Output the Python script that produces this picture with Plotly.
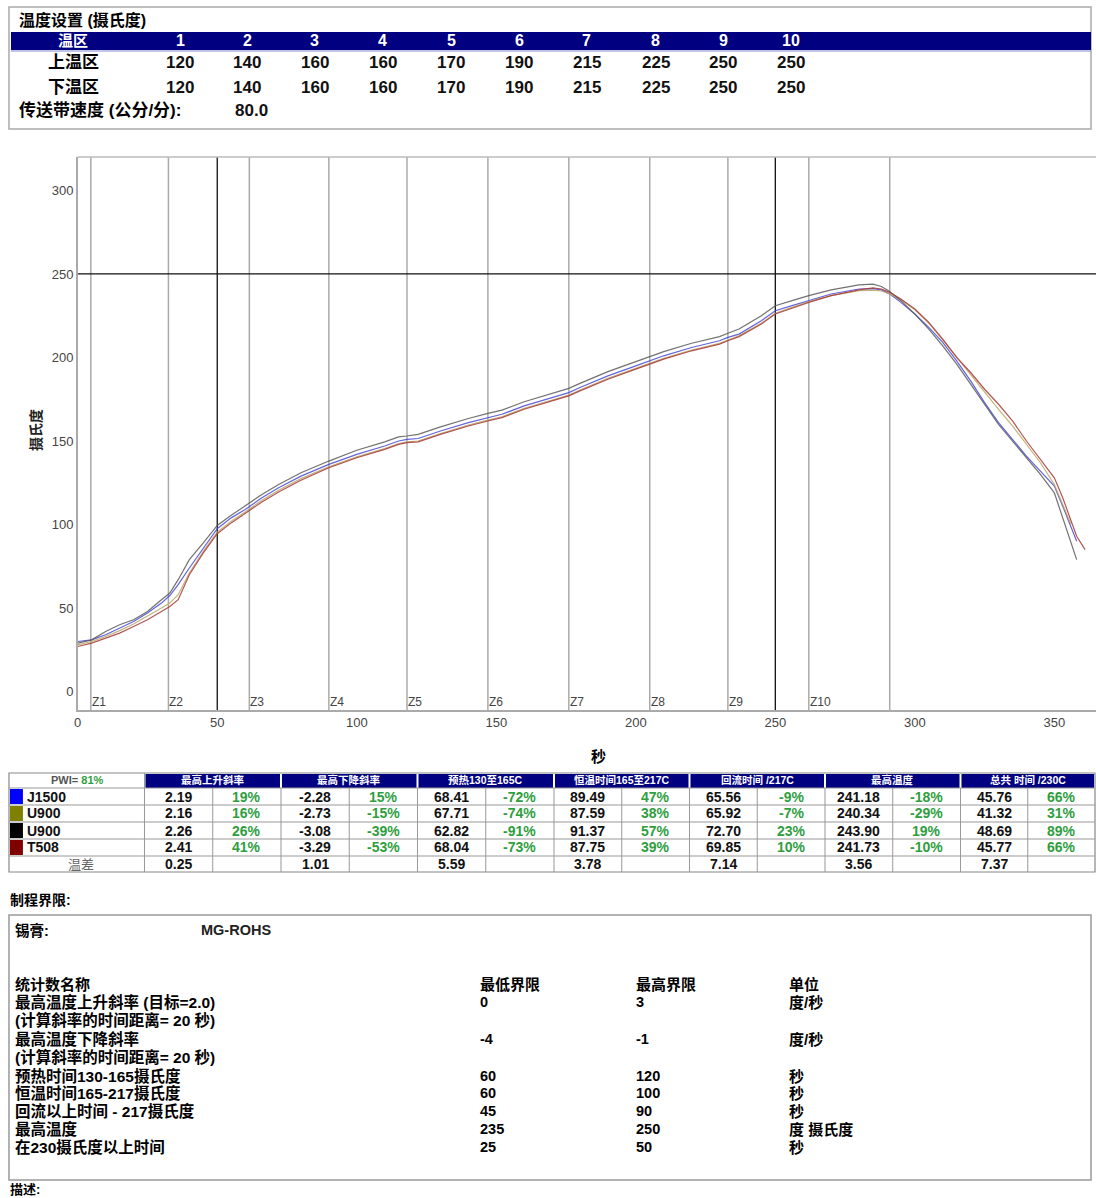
import plotly.graph_objects as go

# ---------------- data ----------------
ZONE_NAMES = ["1", "2", "3", "4", "5", "6", "7", "8", "9", "10"]
UPPER_SET = [120, 140, 160, 160, 170, 190, 215, 225, 250, 250]
LOWER_SET = [120, 140, 160, 160, 170, 190, 215, 225, 250, 250]
BELT_SPEED = "80.0"

ZONE_T = [4.7, 32.5, 61.5, 90, 118, 147, 176, 205, 233, 262, 291]
ZONE_LABELS = ["Z1", "Z2", "Z3", "Z4", "Z5", "Z6", "Z7", "Z8", "Z9", "Z10"]

TIME = [0, 5, 10, 15, 20, 25, 30, 33, 36, 40, 45, 50, 55, 60, 66, 72, 80, 90, 100, 110,
        115, 118, 122, 130, 140, 147, 152, 160, 170, 176, 180, 190, 200, 205, 210, 220,
        230, 233, 237, 245, 250, 256, 262, 270, 280, 285, 288, 291, 295, 300, 305, 310,
        315, 320, 325, 330, 335, 340, 345, 350, 353, 356, 358, 361]

J1500 = [30, 31, 34, 38, 42, 47, 53, 57.5, 64, 74, 86, 97.5, 104, 109, 116, 122, 129, 136, 142, 147,
         150, 151, 151.5, 156, 161, 164, 166, 171, 176, 179, 182, 189, 195, 198, 201, 206,
         210, 212, 214, 222, 228, 231, 234, 238, 241, 241.2, 240.5, 238, 233, 226, 218, 209,
         198, 186, 173, 161, 151, 141, 132, 123, 111, 98, 90, None]
U900_A = [28, 30, 33, 36.5, 40.5, 45, 50, 53, 58, 71, 84, 95.5, 102, 107.5, 114.5, 120.5, 127.5, 134.5, 140.5, 145.5,
          148.5, 149.5, 150, 154.5, 159.5, 162.5, 164.5, 169.5, 174.5, 177.5, 180.5, 187.5, 193.5, 196.5, 199.5, 204.5,
          208.5, 210.5, 213, 220.5, 226.5, 230, 233.5, 237, 240, 240.3, 239.8, 238, 234.5, 228.5, 220.5, 210.5,
          200, 190, 179, 169, 159, 148, 137, 124, 112, 100, None, None]
U900_B = [29, 31, 36, 40, 43, 48, 55, 59, 67, 79, 89, 99.5, 105.5, 111, 118, 124, 131, 138, 144.5, 149.5,
          152.5, 153, 154, 158.5, 163.5, 166.5, 168.5, 173.5, 178.5, 181.5, 184.5, 191.5, 197.5, 200.5, 203.5, 208.5,
          212.5, 214.5, 217, 225, 231, 234, 237, 240.5, 243.5, 243.9, 242.5, 239.5, 234, 226, 217, 207,
          196, 184, 172, 160, 150, 140, 130, 119, 104, 89, 79, None]
T508 = [27, 29, 32, 35, 39, 43, 48, 51, 55, 70, 83, 94.5, 101, 106.5, 113.5, 119.5, 126.5, 134, 140, 145,
        148, 149, 149.5, 154, 159, 162, 164, 169, 174, 177, 180, 187, 193, 196, 199, 204,
        208, 210, 212.5, 220, 226, 229.5, 233, 237, 240.5, 241.7, 241, 239, 235, 229, 221, 211,
        200, 191, 181, 172, 162, 150, 139, 128, 116, 102, 93, 85]

SERIES_NAMES = ["J1500", "U900", "U900", "T508"]
SERIES_LINE_COLORS = ["#4a4ad8", "#b8a860", "#5a5a5a", "#a83838"]
SWATCH_COLORS = ["#0000ff", "#808000", "#000000", "#800000"]

STAT_HEADERS = ["最高上升斜率", "最高下降斜率", "预热130至165C", "恒温时间165至217C",
                "回流时间 /217C", "最高温度", "总共 时间 /230C"]
J1500_VALS = ["2.19", "-2.28", "68.41", "89.49", "65.56", "241.18", "45.76"]
J1500_PCTS = ["19%", "15%", "-72%", "47%", "-9%", "-18%", "66%"]
U900A_VALS = ["2.16", "-2.73", "67.71", "87.59", "65.92", "240.34", "41.32"]
U900A_PCTS = ["16%", "-15%", "-74%", "38%", "-7%", "-29%", "31%"]
U900B_VALS = ["2.26", "-3.08", "62.82", "91.37", "72.70", "243.90", "48.69"]
U900B_PCTS = ["26%", "-39%", "-91%", "57%", "23%", "19%", "89%"]
T508_VALS = ["2.41", "-3.29", "68.04", "87.75", "69.85", "241.73", "45.77"]
T508_PCTS = ["41%", "-53%", "-73%", "39%", "10%", "-10%", "66%"]
DIFF_VALS = ["0.25", "1.01", "5.59", "3.78", "7.14", "3.56", "7.37"]
PWI = "81%"

PASTE = "MG-ROHS"
LIMIT_NAMES = ["最高温度上升斜率 (目标=2.0)", "(计算斜率的时间距离= 20 秒)", "最高温度下降斜率",
               "(计算斜率的时间距离= 20 秒)", "预热时间130-165摄氏度", "恒温时间165-217摄氏度",
               "回流以上时间 - 217摄氏度", "最高温度", "在230摄氏度以上时间"]
LIMIT_LOW = ["0", "", "-4", "", "60", "60", "45", "235", "25"]
LIMIT_HIGH = ["3", "", "-1", "", "120", "100", "90", "250", "50"]
LIMIT_UNIT = ["度/秒", "", "度/秒", "", "秒", "秒", "秒", "度 摄氏度", "秒"]

# ---------------- helpers ----------------
W, H = 1096, 1198
DX = -3  # small horizontal compensation
FONT = "Liberation Sans, Arial, Noto Sans CJK SC, sans-serif"
NAVY = "#000080"
GREEN = "#2e9e3e"
shapes, annos = [], []


def px(x):
    return (x + DX) / W


def py(y):
    return 1 - y / H


def text(x, y, s, size=13, color="black", bold=True, anchor="left"):
    annos.append(dict(x=px(x), y=py(y), xref="paper", yref="paper",
                      text=f"<b>{s}</b>" if bold else s, showarrow=False,
                      xanchor=anchor, yanchor="middle", borderpad=0,
                      font=dict(size=size, color=color, family=FONT)))


def rect(x0, y0, x1, y1, fill=None, line="#999", lw=1):
    shapes.append(dict(type="rect", xref="paper", yref="paper", layer="below",
                       x0=px(x0), x1=px(x1), y0=py(y1), y1=py(y0),
                       fillcolor=fill if fill else "rgba(0,0,0,0)",
                       line=dict(color=line, width=lw)))


def hline(x0, x1, y, color="#999", lw=1):
    shapes.append(dict(type="line", xref="paper", yref="paper",
                       x0=px(x0), x1=px(x1), y0=py(y), y1=py(y),
                       line=dict(color=color, width=lw)))


def vline(x, y0, y1, color="#999", lw=1):
    shapes.append(dict(type="line", xref="paper", yref="paper",
                       x0=px(x), x1=px(x), y0=py(y0), y1=py(y1),
                       line=dict(color=color, width=lw)))


# ---------------- top settings table ----------------
rect(8, 7, 1094, 129, line="#aaa", lw=1.5)
text(17, 20, "温度设置 (摄氏度)", size=16)
rect(10, 32, 1094, 50, fill=NAVY, line=NAVY, lw=0)
hline(10, 1094, 51, color="#8888cc", lw=1)
COL_C = [180, 247, 315, 383, 452, 520, 588, 657, 725, 793]
text(72, 41, "温区", size=15, color="white", anchor="center")
for c, z in zip(COL_C, ZONE_NAMES):
    text(c, 41, z, size=16, color="white", anchor="center")
text(73, 62, "上温区", size=17, anchor="center")
text(73, 87, "下温区", size=17, anchor="center")
for c, u, l in zip(COL_C, UPPER_SET, LOWER_SET):
    text(c, 62, str(u), size=17, color="#111", anchor="center")
    text(c, 87, str(l), size=17, color="#111", anchor="center")
text(17, 111, "传送带速度 (公分/分):", size=17)
text(251, 111, BELT_SPEED, size=17, color="#111", anchor="center")

# ---------------- profile chart ----------------
fig = go.Figure()
for name, vals, col in zip(SERIES_NAMES, [J1500, U900_A, U900_B, T508], SERIES_LINE_COLORS):
    fig.add_trace(go.Scatter(x=TIME, y=vals, mode="lines", name=name,
                             line=dict(color=col, width=1.2), opacity=0.85,
                             showlegend=False, hoverinfo="skip"))

for t in ZONE_T:
    shapes.append(dict(type="line", xref="x", yref="y domain", x0=t, x1=t, y0=0, y1=1,
                       line=dict(color="#aaaaaa", width=1.5), layer="below"))
for t in [50, 250]:
    shapes.append(dict(type="line", xref="x", yref="y domain", x0=t, x1=t, y0=0, y1=1,
                       line=dict(color="#111", width=1.3), layer="below"))
shapes.append(dict(type="line", xref="x domain", yref="y", x0=0, x1=1, y0=250, y1=250,
                   line=dict(color="#111", width=1.3), layer="below"))
shapes.append(dict(type="line", xref="x domain", yref="y domain", x0=0, x1=1, y0=1, y1=1,
                   line=dict(color="#bbb", width=1.5)))
for t, lab in zip(ZONE_T, ZONE_LABELS):
    annos.append(dict(x=t, y=-6, xref="x", yref="y", text=lab, showarrow=False,
                      xanchor="left", yanchor="middle", borderpad=0,
                      font=dict(size=12, color="#444", family=FONT)))

annos.append(dict(x=px(35), y=py(430), xref="paper", yref="paper", text="<b>摄氏度</b>",
                  showarrow=False, textangle=-90, xanchor="center", yanchor="middle",
                  font=dict(size=14, color="#222", family=FONT)))
text(600, 756, "秒", size=15, anchor="center")

# ---------------- statistics table ----------------
GX = [144, 281, 418, 555, 691, 827, 963, 1098]
ROW_Y = [773, 788, 805, 822, 839, 856, 872]
rect(8, 773, 1098, 872, line="#888", lw=1.2)
for i in range(7):
    rect(GX[i] + 1, 774, GX[i + 1] - 1, 788, fill=NAVY, line=NAVY, lw=0)
    text((GX[i] + GX[i + 1]) / 2, 780.5, STAT_HEADERS[i], size=10.5, color="white", anchor="center")
annos.append(dict(x=px(77), y=py(780.5), xref="paper", yref="paper",
                  text=f"<b>PWI= <span style='color:{GREEN}'>{PWI}</span></b>",
                  showarrow=False, xanchor="center", yanchor="middle", borderpad=0,
                  font=dict(size=11, color="#555", family=FONT)))
for y in ROW_Y[1:-1]:
    hline(8, 1098, y, color="#999", lw=1)
vline(144, 773, 872, color="#999")
for i in range(7):
    vline(GX[i], 788, 872, color="#999")
    vline((GX[i] + GX[i + 1]) / 2, 788, 872, color="#999")

all_vals = [J1500_VALS, U900A_VALS, U900B_VALS, T508_VALS]
all_pcts = [J1500_PCTS, U900A_PCTS, U900B_PCTS, T508_PCTS]
for r in range(4):
    y0, y1 = ROW_Y[r + 1], ROW_Y[r + 2]
    yc = (y0 + y1) / 2
    rect(9, y0 + 1, 22, y1 - 1, fill=SWATCH_COLORS[r], line=SWATCH_COLORS[r], lw=0)
    text(25, yc, SERIES_NAMES[r], size=14, color="#111")
    for i in range(7):
        mid = (GX[i] + GX[i + 1]) / 2
        text((GX[i] + mid) / 2, yc, all_vals[r][i], size=14, color="#111", anchor="center")
        text((mid + GX[i + 1]) / 2, yc, all_pcts[r][i], size=14, color=GREEN, anchor="center")
yc = (ROW_Y[5] + ROW_Y[6]) / 2
text(80, yc, "温差", size=13, color="#666", bold=False, anchor="center")
for i in range(7):
    mid = (GX[i] + GX[i + 1]) / 2
    text((GX[i] + mid) / 2, yc, DIFF_VALS[i], size=14, color="#111", anchor="center")

# ---------------- process limits ----------------
text(8, 900, "制程界限:", size=14)
rect(8, 915, 1094, 1180, line="#999", lw=1.5)
text(13, 930, "锡膏:", size=14.5)
text(200, 930, PASTE, size=14.5, color="#222")
text(13, 984, "统计数名称", size=15)
text(480, 984, "最低界限", size=15)
text(636, 984, "最高界限", size=15)
text(790, 984, "单位", size=15)
LIM_Y = [1002, 1020, 1039, 1057, 1076, 1093, 1111, 1129, 1147]
for y, n, lo, hi, u in zip(LIM_Y, LIMIT_NAMES, LIMIT_LOW, LIMIT_HIGH, LIMIT_UNIT):
    text(13, y, n, size=15.5)
    if lo:
        text(480, y, lo, size=14.5)
        text(636, y, hi, size=14.5)
        text(790, y, u, size=15)
text(8, 1189, "描述:", size=13)

fig.update_layout(
    width=W, height=H, autosize=False,
    margin=dict(l=0, r=0, t=0, b=0),
    paper_bgcolor="white", plot_bgcolor="white",
    shapes=shapes, annotations=annos, showlegend=False,
    font=dict(family=FONT),
    xaxis=dict(domain=[(77 + DX) / W, 1], range=[0, 366 + DX / 2.79],
               tickvals=[0, 50, 100, 150, 200, 250, 300, 350],
               showgrid=False, zeroline=False, showline=True, linecolor="#aaa", linewidth=1.5,
               ticks="", tickfont=dict(size=13, color="#444", family=FONT)),
    yaxis=dict(domain=[1 - 710 / H, 1 - 157 / H], range=[-11, 320],
               tickvals=[0, 50, 100, 150, 200, 250, 300],
               showgrid=False, zeroline=False, showline=True, linecolor="#aaa", linewidth=1.5,
               ticks="", tickfont=dict(size=13, color="#444", family=FONT)),
)

fig.write_html("out.html", config={"displayModeBar": False},
               post_script="document.body.style.margin='0';")
